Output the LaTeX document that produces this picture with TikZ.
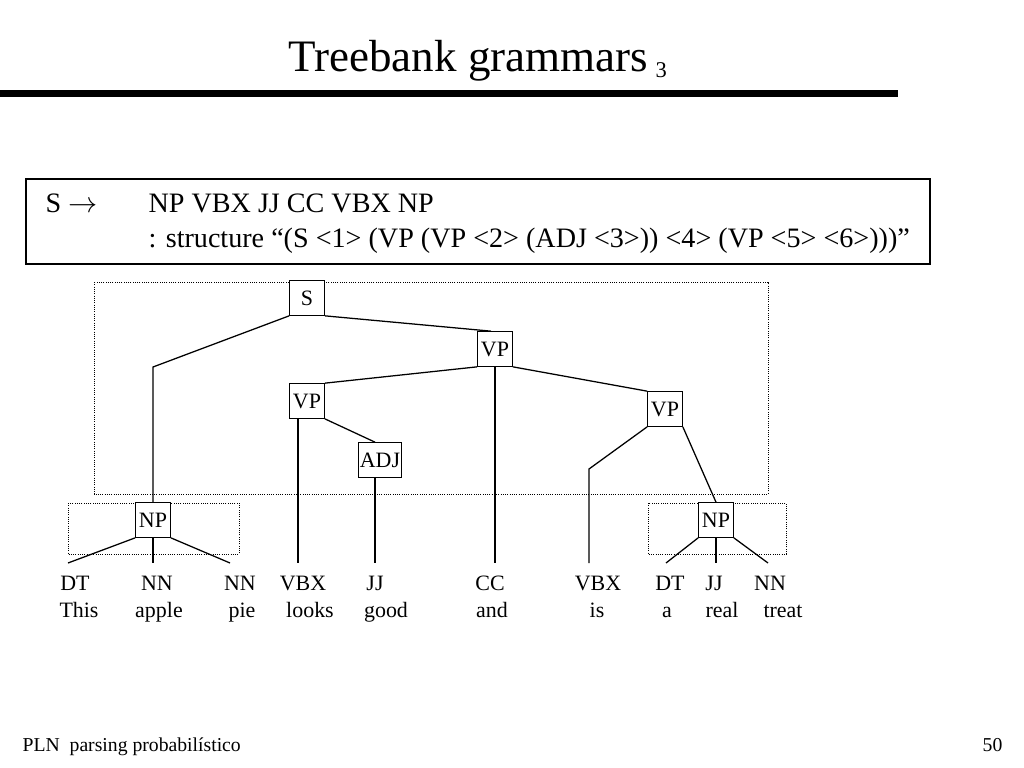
\documentclass[tikz,border=0pt]{standalone}
\usepackage{fontspec}
\setmainfont{Liberation Serif}

\begin{document}
\begin{tikzpicture}[%
    x=0.025cm, y=-0.025cm,      % one unit is one pixel of the slide, y down
    line width=0.9pt,           % tree branches
    ]
% -------------------------------------------------
% Styles for the slide and the tree
\tikzset{
  cat/.style={draw, fill=white, inner sep=1pt, minimum width=0.86cm,
    minimum height=0.86cm, font={\fontsize{15.6}{18}\selectfont}},
  tag/.style={anchor=base, inner sep=0pt, font={\fontsize{15.6}{18}\selectfont}},
  word/.style={tag},
  rulebox/.style={draw, line width=1pt, minimum width=22.6cm, minimum height=2.125cm},
  ruletext/.style={anchor=base west, inner sep=0pt, font={\fontsize{20}{24}\selectfont}},
  frame/.style={draw, line width=0.6pt, densely dotted},
  coord/.style={coordinate},
  foot/.style={inner sep=0pt, font={\fontsize{14}{17}\selectfont}}
}
\useasboundingbox (0,0) rectangle (1024,768);
% -------------------------------------------------
% Title and rule
\node [anchor=base west, inner sep=0pt, font={\fontsize{32}{38}\selectfont}]
  (title) at (288,72) {Treebank grammars};
\node [anchor=base west, inner sep=0pt, font={\fontsize{16}{19}\selectfont}]
  (titlenum) at (655,78) {3};
\draw [line width=5pt] (0,93.5) -- (898,93.5);
% -------------------------------------------------
% The rule in its box
\node [rulebox] (rule) at (478,221.5) {};
\node [ruletext] (lhs) at (45,212) {S $\rightarrow$};
\node [ruletext] (rhs) at (148,212) {NP VBX JJ CC VBX NP};
\node [ruletext] (struct) at (148,247)
  {: structure “(S <1> (VP (VP <2> (ADJ <3>)) <4> (VP <5> <6>)))”};
% -------------------------------------------------
% Dotted frames round the parts of the tree
\draw [frame] (94,282) rectangle (768,494);
\draw [frame] (68,503) rectangle (239,554);
\draw [frame] (648,503) rectangle (786,554);
% -------------------------------------------------
% Category boxes
\node [cat] (s)    at (307,298) {S};
\node [cat] (vpt)  at (495,349) {VP};
\node [cat] (vpl)  at (307,401) {VP};
\node [cat] (adj)  at (380,460) {ADJ};
\node [cat] (vpr)  at (665,409) {VP};
\node [cat] (npl)  at (153,520) {NP};
\node [cat] (npr)  at (716,520) {NP};
% -------------------------------------------------
% Corners and free ends of the branches
\node [coord] (cnp)  at (153,367) {};
\node [coord] (cis)  at (589,469) {};
\node [coord] (edt)  at (68,563)  {};
\node [coord] (enn)  at (153,563) {};
\node [coord] (ennb) at (230,563) {};
\node [coord] (evbx) at (298,563) {};
\node [coord] (ejj)  at (375,563) {};
\node [coord] (ecc)  at (495,563) {};
\node [coord] (eis)  at (589,563) {};
\node [coord] (edtr) at (666,563) {};
\node [coord] (ejjr) at (716,563) {};
\node [coord] (ennr) at (768,563) {};
% -------------------------------------------------
% Tags and words
\node [tag] (tdt)   at (75,590)  {DT};
\node [tag] (tnn)   at (157,590) {NN};
\node [tag] (tnnb)  at (240,590) {NN};
\node [tag] (tvbx)  at (303,590) {VBX};
\node [tag] (tjj)   at (375,590) {JJ};
\node [tag] (tcc)   at (490,590) {CC};
\node [tag] (tvbxb) at (598,590) {VBX};
\node [tag] (tdtr)  at (670,590) {DT};
\node [tag] (tjjr)  at (714,590) {JJ};
\node [tag] (tnnr)  at (770,590) {NN};
\node [word] (wthis)  at (79,617)  {This};
\node [word] (wapple) at (159,617) {apple};
\node [word] (wpie)   at (242,617) {pie};
\node [word] (wlooks) at (310,617) {looks};
\node [word] (wgood)  at (386,617) {good};
\node [word] (wand)   at (492,617) {and};
\node [word] (wis)    at (597,617) {is};
\node [word] (wa)     at (667,617) {a};
\node [word] (wreal)  at (722,617) {real};
\node [word] (wtreat) at (783,617) {treat};
% -------------------------------------------------
% Branches
\draw (s.south west) -- (cnp) -- (npl.north);
\draw (s.south east) -- ([xshift=-0.1cm]vpt.north);
\draw (vpt.south west) -- (vpl.north east);
\draw (vpt.south east) -- (vpr.north west);
\draw (vpt.south -| ecc) -- (ecc);
\draw (vpl.south -| evbx) -- (evbx);
\draw (vpl.south east) -- (adj.north -| ejj);
\draw (adj.south -| ejj) -- (ejj);
\draw (vpr.south west) -- (cis) -- (eis);
\draw (vpr.south east) -- (npr.north);
\draw (npl.south west) -- (edt);
\draw (npl.south) -- (enn);
\draw (npl.south east) -- (ennb);
\draw (npr.south west) -- (edtr);
\draw (npr.south) -- (ejjr);
\draw (npr.south east) -- (ennr);
% -------------------------------------------------
% Footer
\node [foot, anchor=base west] (footl) at (22,751) {PLN\ \ parsing probabilístico};
\node [foot, anchor=base east] (footr) at (1003,751) {50};
\end{tikzpicture}
\end{document}
